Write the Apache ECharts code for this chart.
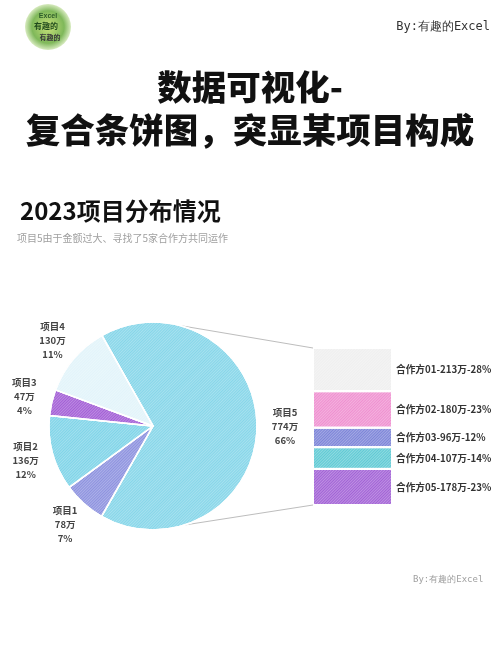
<!DOCTYPE html>
<html><head><meta charset="utf-8">
<script src="https://cdn.jsdelivr.net/npm/echarts@6/dist/echarts.min.js"></script>
<style>html,body{margin:0;padding:0;background:#fff}#c{width:500px;height:646px}</style>
</head><body><div id="c"></div>
<script>
const pieNames = ['项目5','项目1','项目2','项目3','项目4'];
const pieValues = [774, 78, 136, 47, 130];
const pieColors = ['#86d6e9','#8d92df','#7fd4e8','#a35fd6','#e2f4fa'];
const partnerNames = ['合作方01','合作方02','合作方03','合作方04','合作方05'];
const partnerValues = [213, 180, 96, 107, 178];
const partnerColors = ['#efefef','#ef90d0','#7c84d8','#5fcad4','#a262d6'];

const PIE_C = [153, 426], PIE_R = 104, START = 119.5;
const BAR = {left: 313, top: 348, width: 79, height: 157};
const FONT = '"Noto Sans CJK SC", sans-serif';
const pieTotal = pieValues.reduce((a, b) => a + b, 0);
const barTotal = partnerValues.reduce((a, b) => a + b, 0);

function midAngle(i) {
  let before = 0;
  for (let j = 0; j < i; j++) before += pieValues[j];
  return (START - (before + pieValues[i] / 2) / pieTotal * 360) * Math.PI / 180;
}
function hatch(c) {
  return {symbol: 'rect', symbolSize: 1, dashArrayX: [1, 0], dashArrayY: [1, 1],
          rotation: -Math.PI / 4, color: c};
}
function onCircle(degFromTopClockwise) {
  const a = degFromTopClockwise * Math.PI / 180;
  return [PIE_C[0] + PIE_R * Math.sin(a), PIE_C[1] - PIE_R * Math.cos(a)];
}
const pTop = onCircle(15), pBot = onCircle(162);

const chart = echarts.init(document.getElementById('c'), null, {renderer: 'canvas'});
const barSeries = partnerNames.map((n, i) => ({
  type: 'bar', stack: 'p', name: n, barWidth: '100%',
  data: [partnerValues[i]],
  itemStyle: {color: partnerColors[i], borderColor: '#fff', borderWidth: 1,
              decal: hatch('rgba(255,255,255,0.3)')},
  label: {show: true, position: 'right', distance: 4, color: '#333', fontSize: 9.7,
          fontWeight: 'bold', fontFamily: FONT,
          formatter: () => n + '-' + partnerValues[i] + '万-' + Math.round(partnerValues[i] / barTotal * 100) + '%'},
  emphasis: {disabled: true}
}));

chart.setOption({
  animation: false,
  backgroundColor: '#fff',
  textStyle: {fontFamily: FONT},
  grid: {left: BAR.left, top: BAR.top, width: BAR.width, height: BAR.height},
  xAxis: {type: 'category', data: ['项目5'], show: false},
  yAxis: {type: 'value', min: 0, max: barTotal, inverse: true, show: false},
  graphic: [
    {type: 'circle', shape: {cx: 48, cy: 27, r: 23},
     style: {fill: new echarts.graphic.RadialGradient(0.5, 0.5, 0.5, [
       {offset: 0, color: '#c9e27a'}, {offset: 0.7, color: '#7fb85a'}, {offset: 1, color: '#d8ebc0'}])}},
    {type: 'text', x: 48, y: 16, style: {text: 'Excel', fontSize: 7, fontWeight: 'bold', fill: '#2e5d2a', align: 'center', verticalAlign: 'middle'}},
    {type: 'text', x: 46, y: 26, style: {text: '有趣的', fontSize: 8, fontWeight: 'bold', fill: '#1f4a1c', align: 'center', verticalAlign: 'middle', fontFamily: FONT}},
    {type: 'text', x: 50, y: 37, style: {text: '有趣的', fontSize: 7, fontWeight: 'bold', fill: '#3a3a3a', align: 'center', verticalAlign: 'middle', fontFamily: FONT}},
    {type: 'text', right: 10, top: 21, style: {text: 'By:有趣的Excel', fontSize: 12, fill: '#333', fontFamily: '"DejaVu Sans Mono", monospace'}},
    {type: 'text', x: 250, y: 87, style: {text: '数据可视化-', fontSize: 34.5, fontWeight: 900, fill: '#111', align: 'center', verticalAlign: 'middle', fontFamily: FONT}},
    {type: 'text', x: 250, y: 130, style: {text: '复合条饼图，突显某项目构成', fontSize: 34.5, fontWeight: 900, fill: '#111', align: 'center', verticalAlign: 'middle', fontFamily: FONT}},
    {type: 'text', x: 20, y: 211, style: {text: '2023项目分布情况', fontSize: 24, fontWeight: 'bold', fill: '#111', verticalAlign: 'middle', fontFamily: FONT}},
    {type: 'text', x: 17, y: 238, style: {text: '项目5由于金额过大、寻找了5家合作方共同运作', fontSize: 10, fill: '#a0a0a0', verticalAlign: 'middle', fontFamily: FONT}},
    {type: 'line', shape: {x1: pTop[0], y1: pTop[1], x2: BAR.left, y2: BAR.top}, style: {stroke: '#bdbdbd', lineWidth: 1}},
    {type: 'line', shape: {x1: pBot[0], y1: pBot[1], x2: BAR.left, y2: BAR.top + BAR.height}, style: {stroke: '#bdbdbd', lineWidth: 1}},
    {type: 'text', x: 413, y: 580, style: {text: 'By:有趣的Excel', fontSize: 9, fill: '#a0a0a0', verticalAlign: 'middle', fontFamily: '"DejaVu Sans Mono", monospace'}}
  ],
  series: [{
    type: 'pie', center: PIE_C, radius: PIE_R, startAngle: START, clockwise: true,
    avoidLabelOverlap: false,
    data: pieNames.map((n, i) => ({name: n, value: pieValues[i],
      itemStyle: {color: pieColors[i], decal: hatch('rgba(255,255,255,0.28)')}})),
    itemStyle: {borderColor: '#fff', borderWidth: 1.5},
    label: {show: true, position: 'outside', color: '#444', fontSize: 9.5, fontWeight: 'bold',
            lineHeight: 14, align: 'center', overflow: 'none', width: 80,
            formatter: p => p.name + '\n' + p.value + '万\n' + Math.round(p.value / pieTotal * 100) + '%'},
    labelLine: {show: false},
    labelLayout: p => {
      const a = midAngle(p.dataIndex), d = PIE_R + 28;
      return {x: PIE_C[0] + d * Math.cos(a), y: PIE_C[1] - d * Math.sin(a),
              align: 'center', verticalAlign: 'middle', hideOverlap: false, moveOverlap: null};
    },
    emphasis: {disabled: true}
  }].concat(barSeries)
});
</script></body></html>
